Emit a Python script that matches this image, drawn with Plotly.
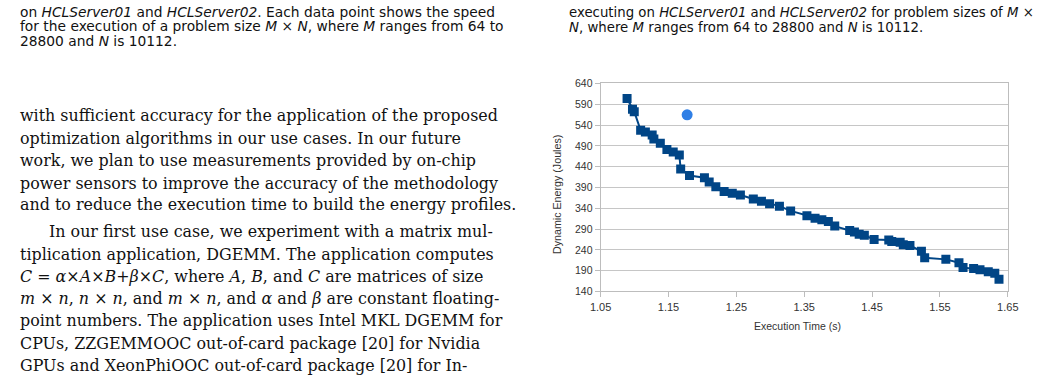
import plotly.graph_objects as go

W, H = 1043, 380

# ---- data ----
time_s = [1.089, 1.097, 1.0996, 1.109, 1.116, 1.126, 1.1285, 1.138, 1.1477, 1.157,
          1.166, 1.168, 1.181, 1.203, 1.210, 1.2198, 1.232, 1.244, 1.256, 1.275,
          1.287, 1.299, 1.3135, 1.330, 1.354, 1.366, 1.376, 1.3856, 1.395, 1.417,
          1.424, 1.431, 1.4386, 1.453, 1.4746, 1.479, 1.4914, 1.496, 1.5058, 1.5227,
          1.5275, 1.5587, 1.578, 1.584, 1.5996, 1.609, 1.6212, 1.6308, 1.637]
energy_j = [604, 578, 572, 527.5, 523.5, 516, 506.5, 496, 481, 475.5,
            467.7, 434.4, 418.8, 413.4, 403, 391.5, 380, 376, 372, 362,
            356.7, 351, 345, 333.5, 322, 315.6, 312.5, 308, 297, 286.7,
            283, 277.4, 275, 265, 263.5, 259.7, 258, 252, 250.4, 236.4,
            221, 217, 209, 197.5, 195, 192, 187.5, 183.5, 169]
single_time = [1.1775]
single_energy = [564.7]

y_ticks = [140, 190, 240, 290, 340, 390, 440, 490, 540, 590, 640]
x_ticks = [1.05, 1.15, 1.25, 1.35, 1.45, 1.55, 1.65]
x_title = "Execution Time (s)"
y_title = "Dynamic Energy (Joules)"

caption_left = [
    "on <i>HCLServer01</i> and <i>HCLServer02</i>. Each data point shows the speed",
    "for the execution of a problem size <i>M</i> × <i>N</i>, where <i>M</i> ranges from 64 to",
    "28800 and <i>N</i> is 10112.",
]
caption_right = [
    "executing on <i>HCLServer01</i> and <i>HCLServer02</i> for problem sizes of <i>M</i> ×",
    "<i>N</i>, where <i>M</i> ranges from 64 to 28800 and <i>N</i> is 10112.",
]
body_p1 = [
    "with sufficient accuracy for the application of the proposed",
    "optimization algorithms in our use cases. In our future",
    "work, we plan to use measurements provided by on-chip",
    "power sensors to improve the accuracy of the methodology",
    "and to reduce the execution time to build the energy profiles.",
]
body_p2 = [
    "In our first use case, we experiment with a matrix mul-",
    "tiplication application, DGEMM. The application computes",
    "<i>C</i> = <i>α</i>×<i>A</i>×<i>B</i>+<i>β</i>×<i>C</i>, where <i>A</i>, <i>B</i>, and <i>C</i> are matrices of size",
    "<i>m</i> × <i>n</i>, <i>n</i> × <i>n</i>, and <i>m</i> × <i>n</i>, and <i>α</i> and <i>β</i> are constant floating-",
    "point numbers. The application uses Intel MKL DGEMM for",
    "CPUs, ZZGEMMOOC out-of-card package [20] for Nvidia",
    "GPUs and XeonPhiOOC out-of-card package [20] for In-",
]

# ---- layout geometry (pixels) ----
PX_L, PX_R = 602.3, 1018.3
PY_T, PY_B = 80.0, 294.7


def px(x):
    return x / W


def py(y):
    return 1 - y / H


fig = go.Figure()
fig.add_trace(go.Scatter(
    x=time_s, y=energy_j, mode="lines+markers",
    line=dict(color="#004586", width=2),
    marker=dict(symbol="square", size=9, color="#004586"),
    showlegend=False,
))
fig.add_trace(go.Scatter(
    x=single_time, y=single_energy, mode="markers",
    marker=dict(symbol="circle", size=11, color="#2f7fe6"),
    showlegend=False,
))

annotations = []
sans = "Liberation Sans, Arial, sans-serif"
cap_font = "DejaVu Sans, sans-serif"
serif = "DejaVu Serif, serif"

cap_y_left = [6, 21, 36]
for t, yy in zip(caption_left, cap_y_left):
    annotations.append(dict(text=t, x=px(7), y=py(yy), xanchor="left", yanchor="middle",
                            font=dict(family=cap_font, size=13.8, color="#111")))
cap_y_right = [7, 22]
for t, yy in zip(caption_right, cap_y_right):
    annotations.append(dict(text=t, x=px(568), y=py(yy), xanchor="left", yanchor="middle",
                            font=dict(family=cap_font, size=13.3, color="#111")))

p1_y = [113, 137, 160, 183, 205]
for t, yy in zip(body_p1, p1_y):
    annotations.append(dict(text=t, x=px(7), y=py(yy), xanchor="left", yanchor="middle",
                            font=dict(family=serif, size=15.9, color="#111")))
p2_y = [233, 257, 279, 302, 325, 348, 371]
for i, (t, yy) in enumerate(zip(body_p2, p2_y)):
    annotations.append(dict(text=t, x=px(37 if i == 0 else 7), y=py(yy), xanchor="left",
                            yanchor="middle",
                            font=dict(family=serif, size=15.9, color="#111")))

annotations.append(dict(text=y_title, x=px(558), y=py(195), textangle=-90,
                        xanchor="center", yanchor="middle",
                        font=dict(family=sans, size=10.7, color="#333")))
annotations.append(dict(text=x_title, x=px(803), y=py(330), xanchor="center",
                        yanchor="middle", font=dict(family=sans, size=10.5, color="#333")))

for a in annotations:
    a.update(xref="paper", yref="paper", showarrow=False)

fig.update_layout(
    width=W, height=H,
    margin=dict(l=0, r=0, t=0, b=0),
    paper_bgcolor="white", plot_bgcolor="white",
    annotations=annotations,
    xaxis=dict(domain=[px(PX_L), px(PX_R)], range=[1.05, 1.65],
               tickvals=x_ticks, ticktext=[f"{v:.2f}" for v in x_ticks],
               showgrid=False, showline=True, linecolor="#bdbdbd", linewidth=1,
               mirror=True, ticks="outside", ticklen=5, tickcolor="#bdbdbd",
               tickfont=dict(family=sans, size=11, color="#333"), zeroline=False),
    yaxis=dict(domain=[py(PY_B), py(PY_T)], range=[140, 640],
               tickvals=y_ticks, showgrid=True, gridcolor="#c6c6c6", gridwidth=1,
               showline=True, linecolor="#bdbdbd", linewidth=1, mirror=True,
               ticks="outside", ticklen=5, tickcolor="#bdbdbd",
               tickfont=dict(family=sans, size=10.5, color="#333"), zeroline=False),
)

fig.write_html("out.html")
